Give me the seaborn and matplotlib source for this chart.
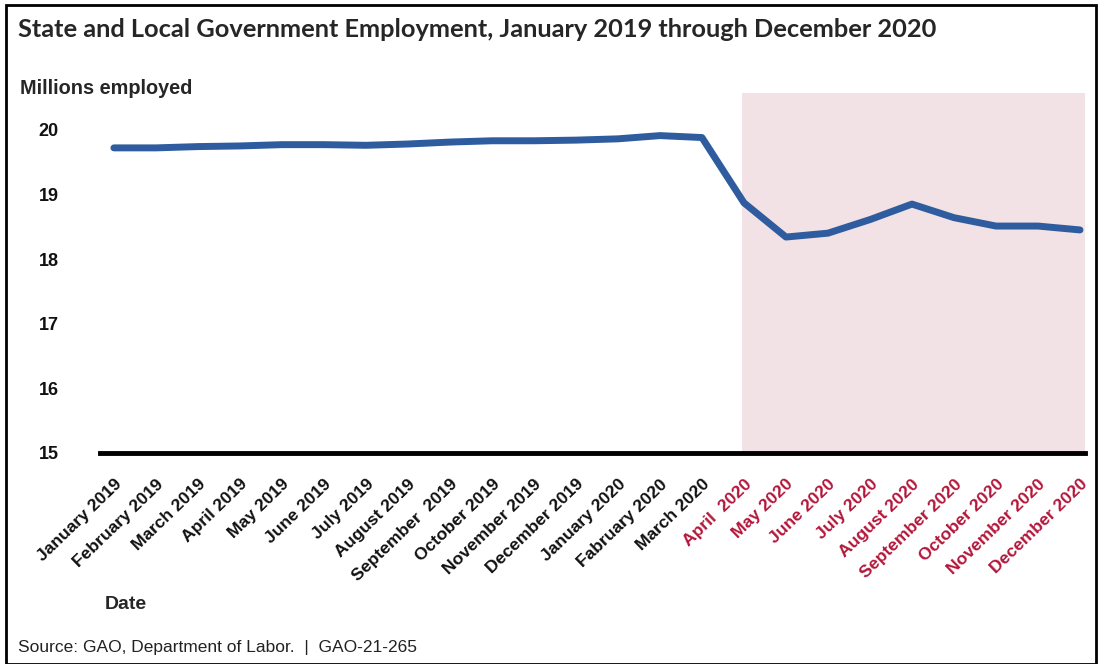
import matplotlib
matplotlib.use('Agg')
import matplotlib.pyplot as plt
import seaborn as sns
import pandas as pd
from matplotlib.patches import Rectangle

months = ['January 2019', 'February 2019', 'March 2019', 'April 2019', 'May 2019',
          'June 2019', 'July 2019', 'August 2019', 'September  2019', 'October 2019',
          'November 2019', 'December 2019', 'January 2020', 'Fabruary 2020', 'March 2020',
          'April  2020', 'May 2020', 'June 2020', 'July 2020', 'August 2020',
          'September 2020', 'October 2020', 'November 2020', 'December 2020']
employed = [19.72, 19.72, 19.74, 19.75, 19.77, 19.77, 19.76, 19.78, 19.81, 19.83,
            19.83, 19.84, 19.86, 19.91, 19.88,
            18.87, 18.34, 18.40, 18.61, 18.85, 18.64, 18.51, 18.51, 18.45]
pandemic_start = 15  # index of April 2020
yticks = [15, 16, 17, 18, 19, 20]

df = pd.DataFrame({'idx': range(len(months)), 'employed': employed})

sns.set_style('white')
plt.rcParams['font.family'] = ['Liberation Sans', 'DejaVu Sans']

fig = plt.figure(figsize=(11.03, 6.64), dpi=100)
ax = fig.add_axes([0.0907, 0.318, 0.893, 0.542])

# shaded pandemic period
ax.axvspan(pandemic_start - 0.05, len(months) - 1 + 0.12, color='#f2e1e5', lw=0, zorder=0)

sns.lineplot(data=df, x='idx', y='employed', color='#2e5c9e', linewidth=5, ax=ax, zorder=3)

ax.set_xlim(-0.33, len(months) - 1 + 0.12)
ax.set_ylim(15, 20.57)
ax.set_yticks(yticks)
ax.set_yticklabels([str(t) for t in yticks], fontsize=13, fontweight='bold', color='#111111')
ax.tick_params(axis='y', length=0, pad=30)
ax.set_xticks(range(len(months)))
ax.set_xticklabels(months, rotation=44, ha='right', rotation_mode='anchor',
                   fontsize=12.6, fontweight='bold')
ax.tick_params(axis='x', length=0, pad=17)
for i, lab in enumerate(ax.get_xticklabels()):
    lab.set_color('#b3163a' if i >= pandemic_start else '#111111')

for s in ['top', 'right', 'left']:
    ax.spines[s].set_visible(False)
ax.spines['bottom'].set_linewidth(3.5)
ax.spines['bottom'].set_color('black')
ax.set_xlabel('')
ax.set_ylabel('')

fig.text(0.016, 0.955, 'State and Local Government Employment, January 2019 through December 2020',
         fontsize=18.3, fontweight='bold', family=['Lato', 'DejaVu Sans'], va='center', ha='left')
fig.text(0.018, 0.867, 'Millions employed', fontsize=14.3, fontweight='bold', va='center', ha='left')
fig.text(0.095, 0.089, 'Date', fontsize=14, fontweight='bold', va='center', ha='left')
fig.text(0.016, 0.025, 'Source: GAO, Department of Labor.  |  GAO-21-265', fontsize=12.5,
         va='center', ha='left', color='#222222')

fig.patches.append(Rectangle((0.005, 0.0), 0.989, 0.993, transform=fig.transFigure,
                             fill=False, edgecolor='black', linewidth=2))

fig.savefig('out.png', dpi=100)
